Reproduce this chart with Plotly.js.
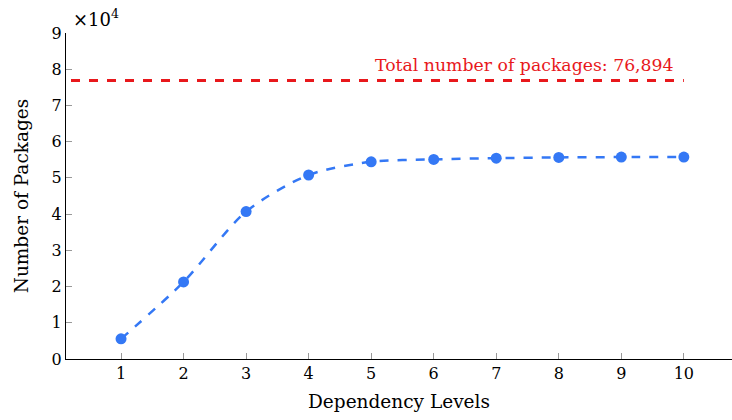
<!DOCTYPE html>
<html><head><meta charset="utf-8">
<script src="https://cdn.plot.ly/plotly-3.0.1.min.js"></script>
<style>html,body{margin:0;padding:0;background:#fff}#c{width:732px;height:420px}</style>
</head><body><div id="c"></div>
<script>
const levels = [1,2,3,4,5,6,7,8,9,10];
const packages = [5560, 21280, 40700, 50800, 54450, 55100, 55450, 55650, 55750, 55750];
const totalPackages = 76894;
const yTickVals = [0,10000,20000,30000,40000,50000,60000,70000,80000,90000];
const yTickText = ['0','1','2','3','4','5','6','7','8','9'];
const xTickVals = [1,2,3,4,5,6,7,8,9,10];

const serif = '"DejaVu Serif", "Liberation Serif", serif';
const traces = [
  {x:[0.2, 10], y:[totalPackages, totalPackages], mode:'lines', type:'scatter',
   line:{color:'#e8181c', width:3, dash:'dash'}, hoverinfo:'skip'},
  {x:levels, y:packages, mode:'lines+markers', type:'scatter',
   line:{color:'#3478f5', width:2.5, dash:'dash', shape:'spline', smoothing:0.8},
   marker:{color:'#3478f5', size:11}}
];
const layout = {
  width:732, height:420,
  margin:{l:66, r:0, t:33, b:61},
  showlegend:false,
  paper_bgcolor:'#fff', plot_bgcolor:'#fff',
  font:{family:serif, size:16, color:'#000'},
  xaxis:{range:[0.12, 10.77], tickvals:xTickVals, ticks:'inside', ticklen:6, tickcolor:'#999',
    showline:true, linecolor:'#000', linewidth:1.2, showgrid:false, zeroline:false,
    tickfont:{family:serif, size:16}, title:{text:'Dependency Levels', font:{family:serif, size:18.5}, standoff:12}},
  yaxis:{range:[0, 90000], tickvals:yTickVals, ticktext:yTickText, ticks:'inside', ticklen:6, tickcolor:'#999',
    showline:true, linecolor:'#000', linewidth:1.2, showgrid:false, zeroline:false,
    tickfont:{family:serif, size:16}, title:{text:'Number of Packages', font:{family:serif, size:18.5}, standoff:18}},
  annotations:[
    {xref:'paper', yref:'paper', x:0.008, y:1.0, xanchor:'left', yanchor:'bottom', yshift:1, showarrow:false,
     text:'×10<sup>4</sup>', font:{family:serif, size:18}},
    {xref:'x', yref:'y', x:10, y:totalPackages, xanchor:'right', yanchor:'bottom', xshift:-8, yshift:3, showarrow:false,
     text:'Total number of packages: 76,894', font:{family:serif, size:17.3, color:'#e8181c'}}
  ]
};
Plotly.newPlot('c', traces, layout, {displayModeBar:false, staticPlot:true});
</script></body></html>
